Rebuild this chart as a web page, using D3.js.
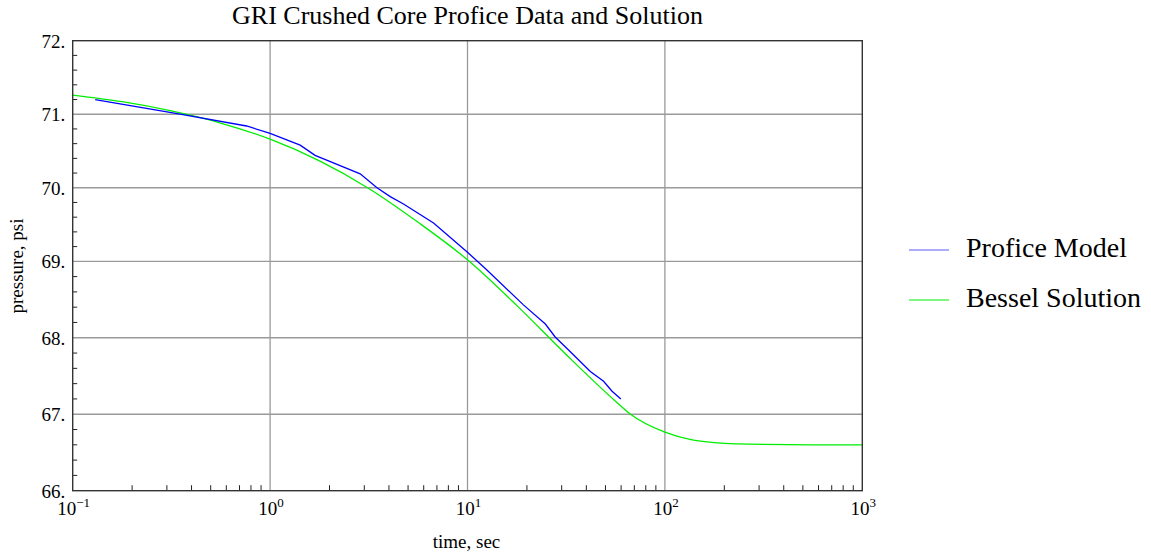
<!DOCTYPE html>
<html>
<head>
<meta charset="utf-8">
<script src="https://cdn.jsdelivr.net/npm/d3@7"></script>
<style>
  html, body { margin: 0; padding: 0; background: #fff; }
  text { font-family: "Liberation Serif", "Times New Roman", serif; fill: #000; }
</style>
</head>
<body>
<svg id="chart" width="1151" height="556" font-family="Liberation Serif, serif"></svg>
<script>
// Profice model run (time in s, pressure in psi)
const modelTime = [0.13, 0.35, 0.76, 1.0, 1.42, 1.69, 2.86, 3.48, 4.06, 4.74, 6.73, 9.93,
                   12.5, 19.2, 24.8, 27.8, 32.5, 41.9, 48.9, 54.0, 59.8];
const modelPressure = [71.20, 71.00, 70.84, 70.74, 70.58, 70.44, 70.19, 70.00, 69.88, 69.78, 69.52, 69.13,
                       68.89, 68.43, 68.18, 68.01, 67.84, 67.56, 67.43, 67.30, 67.20];

// Bessel series solution, sampled every quarter decade
const besselTime = [0.1, 0.178, 0.316, 0.562, 1, 1.78, 3.16, 5.62, 10, 17.8, 31.6, 56.2, 67,
                    100, 134, 178, 316, 562, 1000];
const besselPressure = [71.26, 71.17, 71.045, 70.88, 70.66, 70.365, 69.99, 69.53, 69.02, 68.42, 67.78, 67.17, 67.0,
                        66.765, 66.67, 66.63, 66.605, 66.60, 66.60];

const yTicks = [66, 67, 68, 69, 70, 71, 72];
const xTickExponents = [-1, 0, 1, 2, 3];
const titleText = "GRI Crushed Core Profice Data and Solution";
const xLabel = "time, sec";
const yLabel = "pressure, psi";
const seriesNames = ["Profice Model", "Bessel Solution"];
const seriesColors = ["#0000ff", "#00ee00"];

const svg = d3.select("#chart");
const margin = { left: 72.7, top: 40.7 };
const w = 789.6, h = 450;
const g = svg.append("g").attr("transform", `translate(${margin.left},${margin.top})`);

const x = d3.scaleLog().domain([0.1, 1000]).range([0, w]);
// pressure axis: the lower half of the frame is drawn a little taller than the upper half
const y = d3.scaleLinear().domain([66, 69, 72]).range([h, h * 0.4902, 0]);

// grid
const xDecades = xTickExponents.map(e => Math.pow(10, e));
g.append("g").selectAll("line").data(xDecades.slice(1, -1)).join("line")
  .attr("x1", d => x(d)).attr("x2", d => x(d)).attr("y1", 0).attr("y2", h)
  .attr("stroke", "#9a9a9a").attr("stroke-width", 1.3);
g.append("g").selectAll("line").data(yTicks.slice(1, -1)).join("line")
  .attr("x1", 0).attr("x2", w).attr("y1", d => y(d)).attr("y2", d => y(d))
  .attr("stroke", "#9a9a9a").attr("stroke-width", 1.3);

// minor ticks along bottom (2..9 per decade) and left (every 0.2 psi)
const minorX = [];
for (let e = -1; e < 3; e++) for (let k = 2; k <= 9; k++) minorX.push(k * Math.pow(10, e));
g.append("g").selectAll("line").data(minorX).join("line")
  .attr("x1", d => x(d)).attr("x2", d => x(d)).attr("y1", h).attr("y2", h - 5.5)
  .attr("stroke", "#222").attr("stroke-width", 1);
const minorY = d3.range(66.2, 72, 0.2).filter(v => Math.abs(v - Math.round(v)) > 0.05);
g.append("g").selectAll("line").data(minorY).join("line")
  .attr("x1", 0).attr("x2", 4.5).attr("y1", d => y(d)).attr("y2", d => y(d))
  .attr("stroke", "#222").attr("stroke-width", 1);

// curves
const lineModel = d3.line().x((d, i) => x(modelTime[i])).y(d => y(d));
const lineBessel = d3.line().curve(d3.curveMonotoneX).x((d, i) => x(besselTime[i])).y(d => y(d));
g.append("path").attr("d", lineBessel(besselPressure))
  .attr("fill", "none").attr("stroke", seriesColors[1]).attr("stroke-width", 1.3);
g.append("path").attr("d", lineModel(modelPressure))
  .attr("fill", "none").attr("stroke", seriesColors[0]).attr("stroke-width", 1.3);

// frame
g.append("rect").attr("x", 0).attr("y", 0).attr("width", w).attr("height", h)
  .attr("fill", "none").attr("stroke", "#333").attr("stroke-width", 1.4);

// y tick labels
g.append("g").selectAll("text").data(yTicks).join("text")
  .attr("x", -7.5).attr("y", d => y(d)).attr("dy", "0.36em")
  .attr("text-anchor", "end").style("font-size", "19px")
  .text(d => d + ".");

// x tick labels: powers of ten
const xl = g.append("g").selectAll("text").data(xTickExponents).join("text")
  .attr("x", d => x(Math.pow(10, d)) + 1).attr("y", h + 24.5)
  .attr("text-anchor", "middle").style("font-size", "19px");
xl.append("tspan").text("10");
xl.append("tspan").attr("dy", "-8").style("font-size", "13px")
  .text(d => (d < 0 ? "\u2212" + (-d) : String(d)));

// title and axis labels
svg.append("text").attr("x", margin.left + w / 2).attr("y", 24)
  .attr("text-anchor", "middle").style("font-size", "26px").text(titleText);
svg.append("text").attr("x", margin.left + w / 2 - 1).attr("y", 548)
  .attr("text-anchor", "middle").style("font-size", "19px").text(xLabel);
svg.append("text").attr("transform", "translate(23,266) rotate(-90)")
  .attr("text-anchor", "middle").style("font-size", "19px").text(yLabel);

// legend
const legend = svg.append("g").attr("transform", "translate(909,250)");
seriesNames.forEach((name, i) => {
  const row = legend.append("g").attr("transform", `translate(0,${i * 50})`);
  row.append("line").attr("x1", 0).attr("x2", 40).attr("y1", 0).attr("y2", 0)
    .attr("stroke", seriesColors[i]).attr("stroke-width", 1.2).attr("opacity", i === 0 ? 0.65 : 1);
  row.append("text").attr("x", 57).attr("y", 7).style("font-size", "28px").text(name);
});
</script>
</body>
</html>
